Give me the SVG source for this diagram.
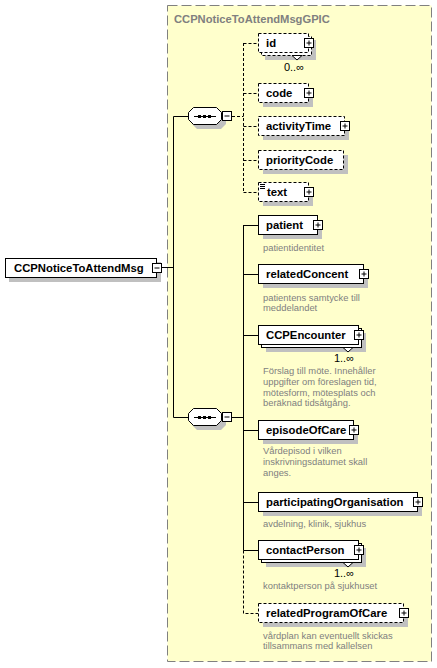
<svg xmlns="http://www.w3.org/2000/svg" width="437" height="668" viewBox="0 0 437 668">
<defs>
<style>
.grp{fill:#FFFFCC;stroke:#808080;stroke-width:1;stroke-dasharray:10 4}
.sh{fill:#C0C0C0}
.box{fill:#fff;stroke:#000;stroke-width:1}
.opt{stroke-dasharray:3 2}
.lbl{font-family:"Liberation Sans",Arial,sans-serif;font-weight:bold;font-size:11.3px;fill:#000}
.ann{font-family:"Liberation Sans",Arial,sans-serif;font-size:9.4px;fill:#808080}
.card{font-family:"Liberation Sans",Arial,sans-serif;font-size:11px;fill:#000}
.ttl{font-family:"Liberation Sans",Arial,sans-serif;font-weight:bold;font-size:11.2px;fill:#808080}
.ln{stroke:#000;stroke-width:1;fill:none}
.dl{stroke:#000;stroke-width:1;fill:none;stroke-dasharray:3 2}
.notch{fill:#fff;stroke:#000;stroke-width:1}
</style>
<g id="plus"><rect x="0.5" y="0.5" width="9" height="9" fill="#fff" stroke="#000"/><path d="M2.5 5H7.5M5 2.5V7.5" stroke="#000"/></g>
<g id="minus"><rect x="0.5" y="0.5" width="9" height="9" fill="#fff" stroke="#000"/><path d="M2.5 5H7.5" stroke="#000"/></g>
<g id="seq">
<polygon class="sh" points="9,4 33,4 38,9 38,17 33,22 9,22 4,17 4,9"/>
<polygon fill="#fff" stroke="#000" points="5.5,0.5 28.5,0.5 33.5,5.5 33.5,12.5 28.5,17.5 5.5,17.5 0.5,12.5 0.5,5.5"/>
<path d="M6 9.5H28" stroke="#000"/>
<rect x="10" y="8" width="3" height="3"/><rect x="15" y="8" width="3" height="3"/><rect x="20" y="8" width="3" height="3"/>
<use href="#minus" x="34" y="4"/>
</g>
</defs>

<rect class="grp" x="167.5" y="5.5" width="264" height="656"/>
<text class="ttl" x="174" y="23">CCPNoticeToAttendMsgGPIC</text>

<g id="connectors">
<path class="ln" d="M161 267.5H173.5M173.5 116.5V417.5M173.5 116.5H188M173.5 417.5H188"/>
<path class="dl" d="M232 116.5H243.5M243.5 43V192.5M243.5 43.5H258M243.5 93.5H258M243.5 126.5H258M243.5 160.5H258M243.5 192.5H258"/>
<path class="ln" d="M232 417.5H243.5M243.5 225V550.5M243.5 225.5H258M243.5 274.5H258M243.5 335.5H258M243.5 430.5H258M243.5 502.5H258M243.5 550.5H258"/>
<path class="dl" d="M243.5 550.5V613.5H258"/>
</g>

<g id="CCPNoticeToAttendMsg">
<rect class="sh" x="9" y="262" width="152" height="20"/>
<rect class="box" x="5.5" y="258.5" width="151" height="19"/>
<text class="lbl" x="14" y="272">CCPNoticeToAttendMsg</text>
<use href="#minus" x="152" y="263"/>
</g>

<g id="seq1"><use href="#seq" x="188" y="107"/></g>
<g id="seq2"><use href="#seq" x="188" y="408"/></g>

<g id="id">
<rect class="sh" x="265" y="40" width="51" height="20"/>
<rect class="box opt" x="261.5" y="36.5" width="50" height="19"/>
<rect class="box opt" x="258.5" y="33.5" width="50" height="19"/>
<polygon class="notch" points="292,55.5 297,60 302,55.5"/>
<text class="lbl" x="266" y="47">id</text>
<use href="#plus" x="304" y="38"/>
<text class="card" x="304" y="71" text-anchor="end">0..∞</text>
</g>

<g id="code">
<rect class="sh" x="263" y="88" width="50" height="19"/>
<rect class="box opt" x="258.5" y="83.5" width="50" height="19"/>
<text class="lbl" x="266" y="97">code</text>
<use href="#plus" x="304" y="88"/>
</g>

<g id="activityTime">
<rect class="sh" x="263" y="121" width="86" height="19"/>
<rect class="box opt" x="258.5" y="116.5" width="86" height="19"/>
<text class="lbl" x="266" y="130">activityTime</text>
<use href="#plus" x="340" y="121"/>
</g>

<g id="priorityCode">
<rect class="sh" x="263" y="155" width="85" height="19"/>
<rect class="box opt" x="258.5" y="150.5" width="85" height="19"/>
<text class="lbl" x="266" y="164">priorityCode</text>
</g>

<g id="text">
<rect class="sh" x="263" y="187" width="50" height="19"/>
<rect class="box opt" x="258.5" y="182.5" width="50" height="19"/>
<path d="M260 184.5H265M260 186.5H265M260 188.5H265" stroke="#000"/>
<text class="lbl" x="267" y="196">text</text>
<use href="#plus" x="304" y="187"/>
</g>

<g id="patient">
<rect class="sh" x="263" y="220" width="59" height="19"/>
<rect class="box" x="258.5" y="215.5" width="59" height="19"/>
<text class="lbl" x="266" y="229">patient</text>
<use href="#plus" x="313" y="220"/>
<text class="ann" x="263" y="250.5">patientidentitet</text>
</g>

<g id="relatedConcent">
<rect class="sh" x="263" y="269" width="105" height="19"/>
<rect class="box" x="258.5" y="264.5" width="105" height="19"/>
<text class="lbl" x="266" y="278">relatedConcent</text>
<use href="#plus" x="359" y="269"/>
<text class="ann" x="263" y="300.5">patientens samtycke till</text>
<text class="ann" x="263" y="311">meddelandet</text>
</g>

<g id="CCPEncounter">
<rect class="sh" x="266" y="333" width="100" height="19"/>
<rect class="box" x="261.5" y="328.5" width="100" height="19"/>
<rect class="box" x="258.5" y="325.5" width="100" height="19"/>
<polygon class="notch" points="343,347.5 348,352 353,347.5"/>
<text class="lbl" x="266" y="339">CCPEncounter</text>
<use href="#plus" x="354" y="330"/>
<text class="card" x="354" y="362" text-anchor="end">1..∞</text>
<text class="ann" x="263" y="373.5">Förslag till möte. Innehåller</text>
<text class="ann" x="263" y="384.5">uppgifter om föreslagen tid,</text>
<text class="ann" x="263" y="395.5">mötesform, mötesplats och</text>
<text class="ann" x="263" y="406">beräknad tidsåtgång.</text>
</g>

<g id="episodeOfCare">
<rect class="sh" x="263" y="425" width="95" height="19"/>
<rect class="box" x="258.5" y="420.5" width="95" height="19"/>
<text class="lbl" x="266" y="434">episodeOfCare</text>
<use href="#plus" x="349" y="425"/>
<text class="ann" x="263" y="453.5">Vårdepisod i vilken</text>
<text class="ann" x="263" y="464.5">inskrivningsdatumet skall</text>
<text class="ann" x="263" y="475.5">anges.</text>
</g>

<g id="participatingOrganisation">
<rect class="sh" x="263" y="497" width="159" height="19"/>
<rect class="box" x="258.5" y="492.5" width="159" height="19"/>
<text class="lbl" x="266" y="506">participatingOrganisation</text>
<use href="#plus" x="413" y="497"/>
<text class="ann" x="263" y="526.5">avdelning, klinik, sjukhus</text>
</g>

<g id="contactPerson">
<rect class="sh" x="266" y="548" width="100" height="19"/>
<rect class="box" x="261.5" y="543.5" width="100" height="19"/>
<rect class="box" x="258.5" y="540.5" width="100" height="19"/>
<polygon class="notch" points="343,562.5 348,567 353,562.5"/>
<text class="lbl" x="266" y="554">contactPerson</text>
<use href="#plus" x="354" y="545"/>
<text class="card" x="354" y="577" text-anchor="end">1..∞</text>
<text class="ann" x="263" y="588.5">kontaktperson på sjukhuset</text>
</g>

<g id="relatedProgramOfCare">
<rect class="sh" x="263" y="608" width="145" height="19"/>
<rect class="box opt" x="258.5" y="603.5" width="145" height="19"/>
<text class="lbl" x="266" y="617">relatedProgramOfCare</text>
<use href="#plus" x="399" y="608"/>
<text class="ann" x="263" y="638.5">vårdplan kan eventuellt skickas</text>
<text class="ann" x="263" y="649">tillsammans med kallelsen</text>
</g>
</svg>
